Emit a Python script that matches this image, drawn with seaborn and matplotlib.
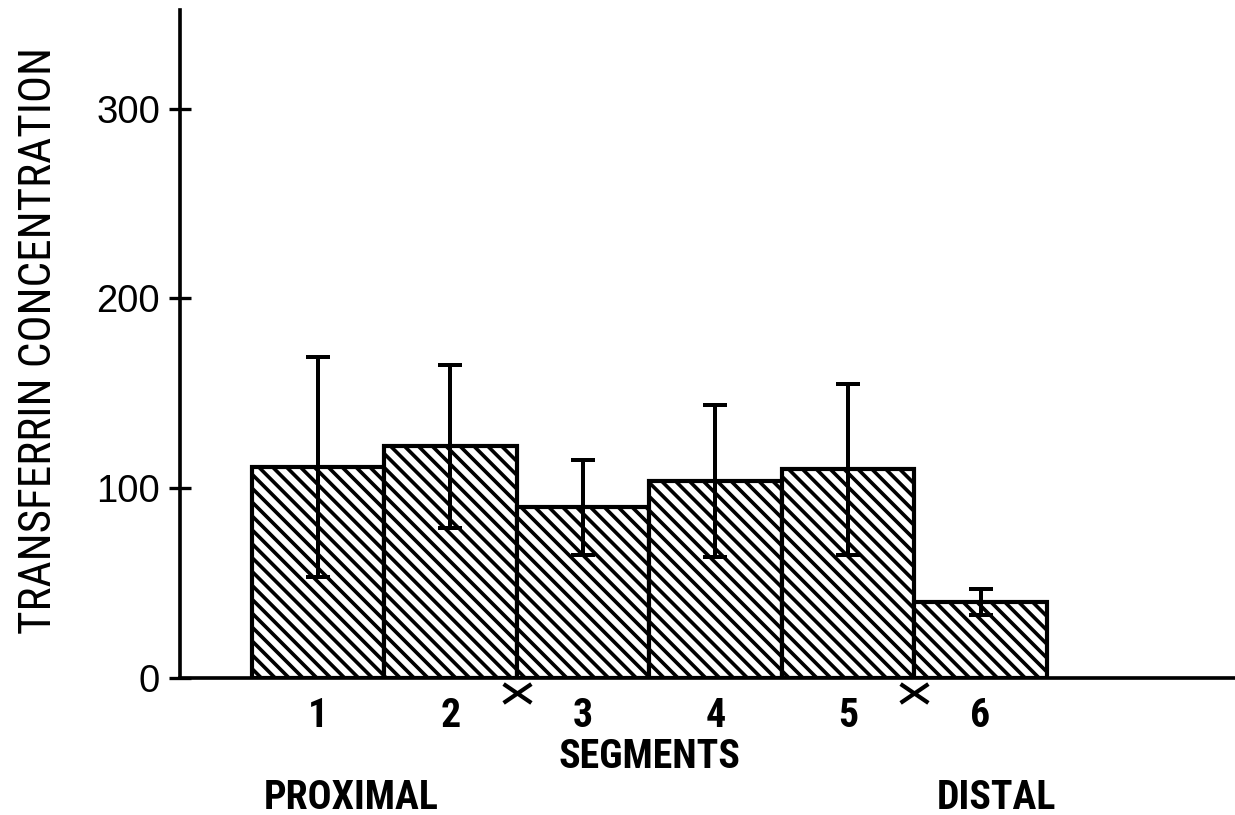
import matplotlib
matplotlib.use("Agg")
import matplotlib.pyplot as plt
import matplotlib.transforms as mtransforms
from matplotlib.path import Path
import seaborn as sns
import pandas as pd

# ---- data ----
segments = ["1", "2", "3", "4", "5", "6"]
concentration = [111, 122, 90, 104, 110, 40]
sd = [58, 43, 25, 40, 45, 7]
divisions_after = ["2", "5"]          # the "×" marks sit after these segments
y_ticks = [0, 100, 200, 300]
y_label = "TRANSFERRIN CONCENTRATION"
x_label = "SEGMENTS"
end_labels = ["PROXIMAL", "DISTAL"]

sns.set_theme(style="white")
plt.rcParams["hatch.linewidth"] = 2.1
plt.rcParams["hatch.color"] = "black"

narrow = ["Roboto Condensed", "DejaVu Sans"]
regular = ["Liberation Sans", "DejaVu Sans"]

DPI = 125
fig = plt.figure(figsize=(1235 / DPI, 815 / DPI), dpi=DPI)
ax = fig.add_axes([180 / 1235, (815 - 678) / 815, 1 - 180 / 1235, 668 / 815])

df = pd.DataFrame({"segment": segments, "value": concentration})
sns.barplot(data=df, x="segment", y="value", ax=ax, width=1.0,
            color="white", edgecolor="black", linewidth=2.4,
            hatch="\\\\\\", errorbar=None, saturation=1)

ax.errorbar(range(len(segments)), concentration, yerr=sd, fmt="none",
            ecolor="black", elinewidth=2.3, capsize=7, capthick=2.3, zorder=5)

ax.set_xlim(-1.04, 6.92)
ax.set_ylim(0, 352)
ax.set_yticks(y_ticks)
ax.set_yticklabels([str(t) for t in y_ticks], family=regular, fontsize=22)
ax.tick_params(axis="y", direction="inout", length=13, width=1.9, pad=5,
               colors="black", left=True)
ax.tick_params(axis="x", length=0, pad=11)
for lab in ax.get_xticklabels():
    lab.set_family(narrow)
    lab.set_fontsize(23)
    lab.set_fontweight("bold")
    lab.set_color("black")

for s in ["top", "right"]:
    ax.spines[s].set_visible(False)
for s in ["left", "bottom"]:
    ax.spines[s].set_color("black")
    ax.spines[s].set_linewidth(2.1)

ax.set_xlabel("")
ax.set_ylabel(y_label, family=narrow, fontsize=26, color="black")
ax.yaxis.set_label_coords(-0.114, 0.505)

blend = mtransforms.blended_transform_factory(ax.transData, ax.transAxes)
mid = (len(segments) - 1) / 2
ax.text(mid, -0.118, x_label, transform=blend, ha="center", va="center",
        family=narrow, fontsize=23, fontweight="bold", color="black")
ax.text(0.162, -0.180, end_labels[0], transform=ax.transAxes, ha="center",
        va="center", family=narrow, fontsize=23, fontweight="bold", color="black")
ax.text(0.774, -0.180, end_labels[1], transform=ax.transAxes, ha="center",
        va="center", family=narrow, fontsize=23, fontweight="bold", color="black")

# slightly wide "×" marker shape
cross = Path([(-1, -0.68), (1, 0.68), (-1, 0.68), (1, -0.68)],
             [Path.MOVETO, Path.LINETO, Path.MOVETO, Path.LINETO])
for seg in divisions_after:
    xpos = segments.index(seg) + 0.5
    ax.plot([xpos], [-0.023], transform=blend, marker=cross, markersize=16,
            mew=2.4, color="black", clip_on=False, linestyle="none")

fig.savefig("out.png", dpi=DPI)
